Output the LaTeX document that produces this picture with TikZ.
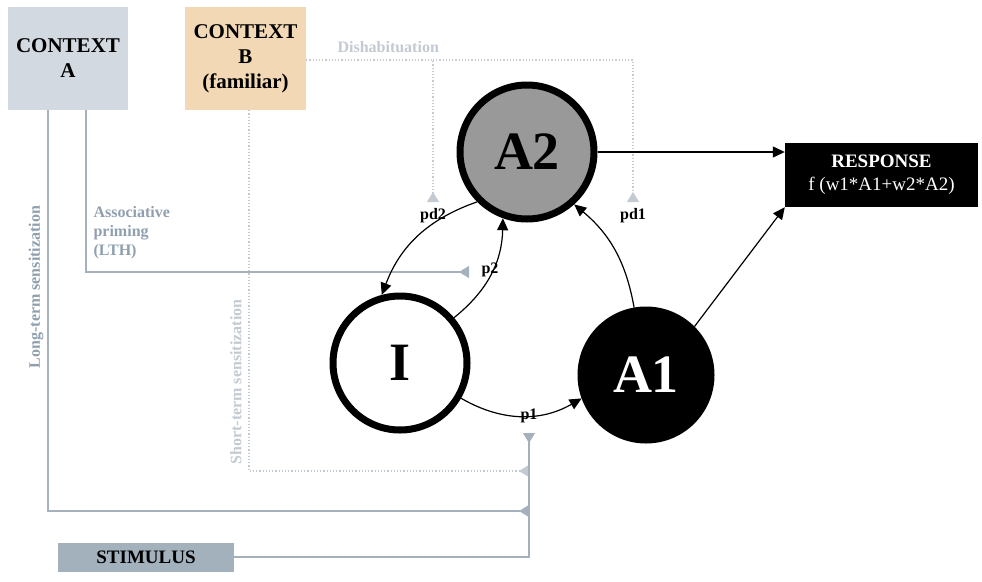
\documentclass[tikz,border=0pt]{standalone}
\usepackage{fontspec}
\setmainfont{Liberation Serif}
\usetikzlibrary{arrows.meta,positioning}
\definecolor{ctxa}{HTML}{D3D9E0}
\definecolor{ctxb}{HTML}{F2D8B5}
\definecolor{stim}{HTML}{A3B1BD}
\definecolor{lgray}{HTML}{C3CAD2}
\definecolor{bgray}{HTML}{8F9FAE}
\begin{document}
\begin{tikzpicture}[x=1pt,y=-1pt,
  box/.style={draw=none,inner sep=0pt,align=center,font=\bfseries\fontsize{21}{25}\selectfont},
  circ/.style={circle,line width=7pt,minimum size=134pt,inner sep=0pt,font=\bfseries\fontsize{54}{54}\selectfont},
  lab/.style={font=\bfseries\fontsize{16}{17}\selectfont},
  arr/.style={-{Triangle[length=12pt,width=11pt]},line width=1.2pt},
  mod/.style={-{Triangle[reversed,length=10pt,width=12pt]},line width=1.2pt},
  dmod/.style={mod,dotted,line width=1.2pt}]
\useasboundingbox (0,0) rectangle (982,581);
% boxes
\node[box,fill=ctxa,minimum width=120pt,minimum height=103pt] (ca) at (68,58.5) {CONTEXT\\A};
\node[box,fill=ctxb,minimum width=121pt,minimum height=103pt] (cb) at (245.5,58.5) {CONTEXT\\B\\(familiar)};
\node[box,fill=stim,minimum width=176pt,minimum height=29pt,font=\bfseries\fontsize{19}{20}\selectfont] (st) at (146,557) {STIMULUS};
\node[box,fill=black,text=white,minimum width=193pt,minimum height=64pt,font=\bfseries\fontsize{19}{23}\selectfont] (re) at (881.5,175) {RESPONSE\\ \mdseries f (w1*A1+w2*A2)};
% coordinates
\coordinate (pd2) at (433,202);
\coordinate (pd1) at (633,202);
\coordinate (ap) at (469,272);
\coordinate (st1) at (529,511);
\coordinate (st2) at (529,471);
\coordinate (p1) at (529,433);
% modulatory connectors
\draw[dmod,lgray] (cb.east|-0,60) -| (pd2);
\draw[dmod,lgray] (433,60) -| (pd1);
\draw[mod,bgray!80] (ca.south-|86,0) |- (ap);
\draw[mod,bgray!80] (ca.south-|48,0) |- (st1);
\draw[dmod,lgray] (cb.south-|249,0) |- (st2);
\draw[mod,stim] (st.east) -| (p1);
% circles
\node[circ,draw=black,fill=black!40] (a2) at (527,152) {A2};
\node[circ,draw=black,fill=white] (i) at (400,363) {I};
\node[circ,draw=black,fill=black,text=white,minimum size=130pt] (a1) at (646,375) {A1};
% black connectors
\draw[line width=1.2pt,-{Triangle[length=12pt,width=11pt]}] (a2.east) -- (re.west|-a2.east);
\draw[arr] (a1.45) -- (re.south west);
\draw[arr] (a1.100) to[bend right=20] (a2.-48);
\draw[arr] (a2.-135) to[bend right=25] (i.105);
\draw[arr] (i.40) to[bend right=25] (a2.-110);
\draw[arr] (i.-30) to[bend right=30] (a1.-160);
% labels
\node[lab] at (433,216) {pd2};
\node[lab] at (633,216) {pd1};
\node[lab] at (490,270) {p2};
\node[lab] at (529,416) {p1};
\node[lab,text=lgray,anchor=west] at (334,47) {Dishabituation};
\node[lab,text=bgray,anchor=north west,align=left,font=\bfseries\fontsize{16}{19}\selectfont] at (90,203) {Associative\\priming\\(LTH)};
\node[lab,text=bgray,rotate=90] at (36,287) {Long-term sensitization};
\node[lab,text=lgray,rotate=90] at (236,382) {Short-term sensitization};
\end{tikzpicture}
\end{document}
